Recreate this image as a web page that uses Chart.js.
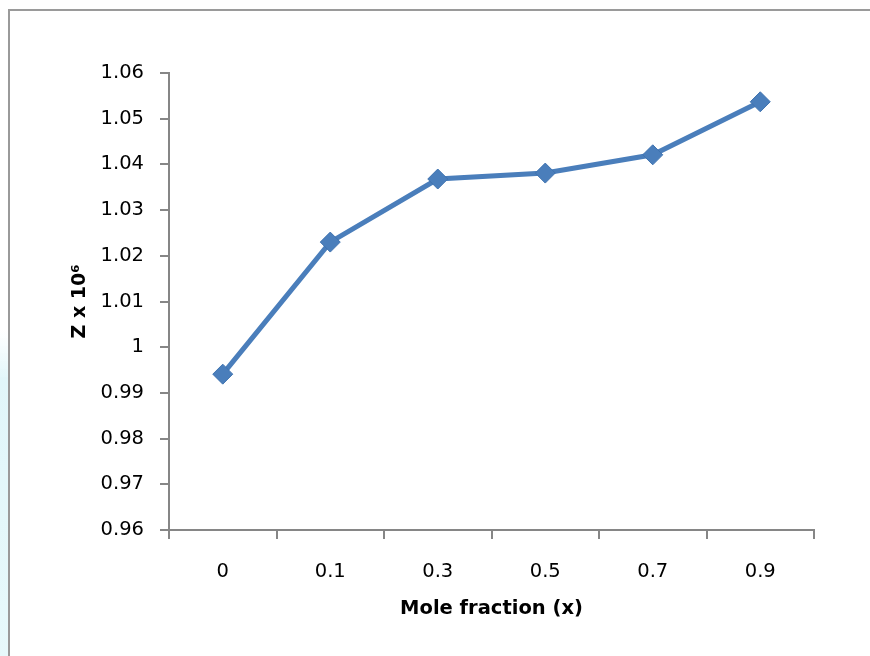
<!DOCTYPE html>
<html>
<head>
<meta charset="utf-8">
<script src="https://cdn.jsdelivr.net/npm/chart.js@4/dist/chart.umd.min.js"></script>
<style>
  html,body{margin:0;padding:0;background:#fff;}
  #wrap{position:relative;width:870px;height:656px;}
</style>
</head>
<body>
<div id="wrap"><canvas id="chart" width="870" height="656"></canvas></div>
<script>
/* Z x 10^6 vs mole fraction — Excel style line chart */
const moleFractions = ['0', '0.1', '0.3', '0.5', '0.7', '0.9'];
const zValues = [0.9941, 1.0230, 1.0368, 1.0381, 1.0421, 1.0537];
const yMin = 0.96, yMax = 1.06, yStep = 0.01;

const AXIS = '#868686';
const BLUE = '#4A7EBB';
const FONT = '"DejaVu Sans", Verdana, sans-serif';

// outer frame + faint cyan bleed on the far left (as in the source image)
const framePlugin = {
  id: 'frame',
  beforeDraw(chart){
    const ctx = chart.ctx;
    ctx.save();
    const g = ctx.createLinearGradient(0, 330, 0, 656);
    g.addColorStop(0, 'rgba(215,244,248,0)');
    g.addColorStop(0.15, 'rgba(205,240,246,0.6)');
    g.addColorStop(1, 'rgba(215,244,248,0.6)');
    ctx.fillStyle = g;
    ctx.fillRect(0, 330, 8, 326);
    ctx.strokeStyle = '#9a9a9a'; ctx.lineWidth = 2;
    ctx.beginPath();
    ctx.moveTo(9, 660); ctx.lineTo(9, 10); ctx.lineTo(880, 10);
    ctx.stroke();
    ctx.restore();
  }
};

new Chart(document.getElementById('chart'), {
  type: 'line',
  data: {
    labels: moleFractions,
    datasets: [{
      data: zValues,
      borderColor: BLUE, backgroundColor: BLUE,
      borderWidth: 5, tension: 0,
      pointStyle: 'rectRot', pointRadius: 10, pointHoverRadius: 10,
      pointBackgroundColor: BLUE, pointBorderColor: '#3F73B0', pointBorderWidth: 1
    }]
  },
  options: {
    responsive: false, animation: false, devicePixelRatio: 1,
    layout: { padding: { top: 73, right: 56, left: 0, bottom: 0 } },
    plugins: { legend: { display: false }, tooltip: { enabled: false } },
    scales: {
      x: {
        offset: true,
        grid: { offset: true, drawOnChartArea: false, color: AXIS, lineWidth: 2, tickLength: 9 },
        border: { color: AXIS, width: 2 },
        ticks: { color: '#000', padding: 21, font: { family: FONT, size: 19.5 } },
        title: { display: true, text: 'Mole fraction (x)', color: '#000',
                 font: { family: FONT, size: 19.5, weight: 'bold' }, padding: { top: 0, bottom: 35 } },
        afterFit(s){ s.height = 126; }
      },
      y: {
        min: yMin, max: yMax,
        grid: { drawOnChartArea: false, color: AXIS, lineWidth: 2, tickLength: 9 },
        border: { color: AXIS, width: 2 },
        ticks: { stepSize: yStep, color: '#000', padding: 16, font: { family: FONT, size: 19.5 },
                 callback: v => +v.toFixed(2) },
        title: { display: true, text: 'Z x 10\u2076', color: '#000',
                 font: { family: FONT, size: 19, weight: 'bold' }, padding: { top: 69, bottom: 0 } },
        afterFit(s){ s.width = 169; }
      }
    }
  },
  plugins: [framePlugin]
});
</script>
</body>
</html>
